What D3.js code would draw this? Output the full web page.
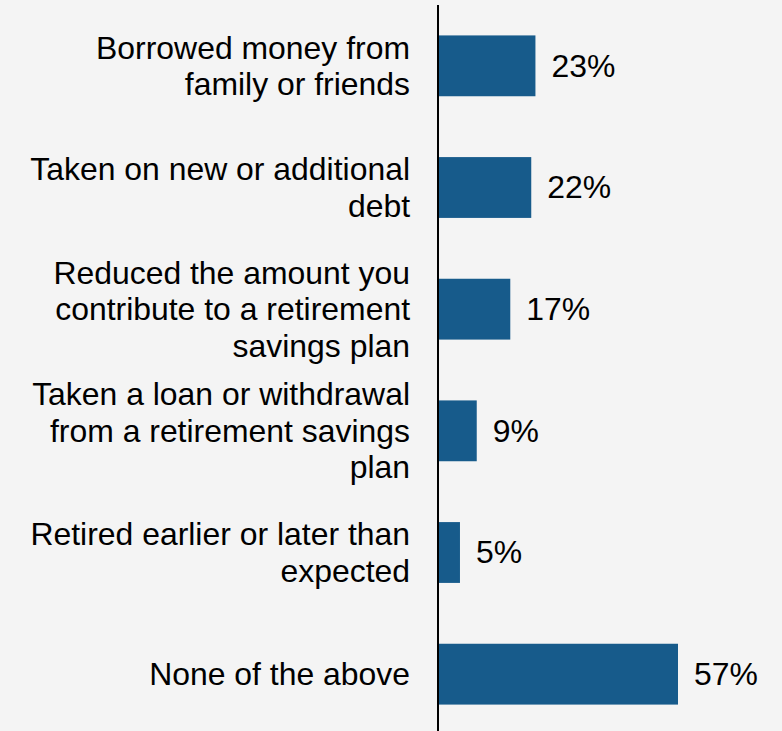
<!DOCTYPE html>
<html>
<head>
<meta charset="utf-8">
<script src="https://cdn.jsdelivr.net/npm/d3@7"></script>
<style>
  html, body { margin: 0; padding: 0; background: #f4f4f4; }
  svg { display: block; font-family: "Liberation Sans", Arial, sans-serif; }
</style>
</head>
<body>
<svg id="chart" width="782" height="731"></svg>
<script>
// Survey responses: actions taken, share of respondents
const categories = [
  ["Borrowed money from", "family or friends"],
  ["Taken on new or additional", "debt"],
  ["Reduced the amount you", "contribute to a retirement", "savings plan"],
  ["Taken a loan or withdrawal", "from a retirement savings", "plan"],
  ["Retired earlier or later than", "expected"],
  ["None of the above"]
];
const values = [23, 22, 17, 9, 5, 57];
const valueLabels = ["23%", "22%", "17%", "9%", "5%", "57%"];

const svg = d3.select("#chart");
const W = 782, H = 731;
const x0 = 439;
const fontSize = 31, lineH = 36.5, stretch = 1.03;

const x = d3.scaleLinear().domain([0, 57]).range([x0, 678]);
const y = d3.scaleBand().domain(d3.range(values.length)).range([5, 735]).paddingInner(0.5).paddingOuter(0.25);

svg.append("rect").attr("width", W).attr("height", H).attr("fill", "#f4f4f4");

// bars
svg.selectAll("rect.bar").data(values).join("rect")
  .attr("class", "bar")
  .attr("x", x0)
  .attr("y", (d, i) => y(i))
  .attr("width", d => x(d) - x0)
  .attr("height", y.bandwidth())
  .attr("fill", "#175b8b");

// value labels
svg.selectAll("text.val").data(values).join("text")
  .attr("class", "val")
  .attr("transform", d => `translate(${x(d) + 16},0) scale(${stretch},1)`)
  .attr("x", 0)
  .attr("y", (d, i) => y(i) + y.bandwidth() / 2 + 11)
  .attr("font-size", fontSize)
  .attr("fill", "#000")
  .text((d, i) => valueLabels[i]);

// category labels, right aligned and centred on each bar
const lab = svg.selectAll("text.cat").data(categories).join("text")
  .attr("class", "cat")
  .attr("transform", `translate(410,0) scale(${stretch},1)`)
  .attr("text-anchor", "end")
  .attr("font-size", fontSize)
  .attr("fill", "#000");
lab.each(function (lines, i) {
  const cy = y(i) + y.bandwidth() / 2;
  const first = cy + 11 - (lines.length - 1) * lineH / 2;
  d3.select(this).selectAll("tspan").data(lines).join("tspan")
    .attr("x", 0)
    .attr("y", (l, j) => first + j * lineH)
    .text(l => l);
});

// vertical axis line
svg.append("line")
  .attr("x1", 438).attr("x2", 438)
  .attr("y1", 5).attr("y2", H)
  .attr("stroke", "#000").attr("stroke-width", 2);
</script>
</body>
</html>
